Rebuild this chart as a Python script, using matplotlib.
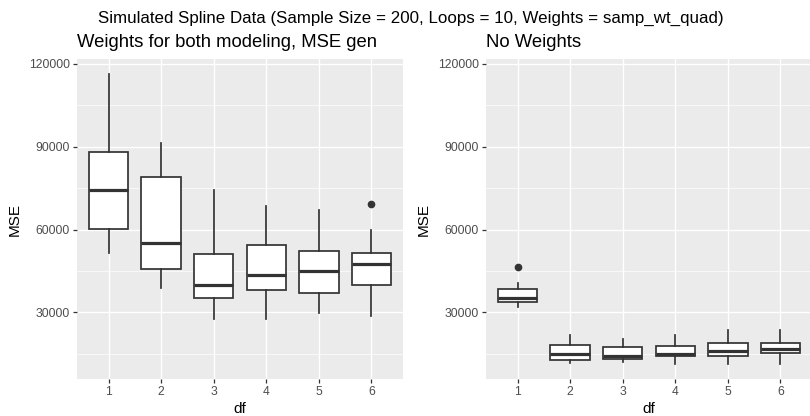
import matplotlib
matplotlib.use("Agg")
import matplotlib.pyplot as plt

plt.rcParams['font.family'] = ['Liberation Sans', 'DejaVu Sans']

df_labels = ["1", "2", "3", "4", "5", "6"]

# Panel 1: Weights for both modeling, MSE gen
w_whislo = [51650, 38800, 27700, 27700, 29900, 28700]
w_q1     = [60100, 45600, 35200, 38100, 37000, 39800]
w_med    = [74400, 55000, 40000, 43500, 45100, 47700]
w_q3     = [87900, 78900, 51000, 54400, 52400, 51400]
w_whishi = [116400, 91200, 74400, 68600, 67200, 59800]
w_fliers = [[], [], [], [], [], [69400]]

# Panel 2: No Weights
n_whislo = [31800, 11900, 12100, 11200, 11200, 11500]
n_q1     = [33900, 12700, 13300, 14400, 14200, 15200]
n_med    = [35400, 14900, 14300, 14900, 16100, 16800]
n_q3     = [38400, 18200, 17600, 18000, 19100, 18800]
n_whishi = [40700, 21800, 20500, 21800, 23800, 23800]
n_fliers = [[46300], [], [], [], [], []]

y_ticks = [30000, 60000, 90000, 120000]
y_minor = [15000, 45000, 75000, 105000]

main_title = "Simulated Spline Data (Sample Size = 200, Loops = 10, Weights = samp_wt_quad)"
titles = ["Weights for both modeling, MSE gen", "No Weights"]

W, H = 810, 416
fig = plt.figure(figsize=(W / 100, H / 100), dpi=100)

panel_bg = "#EBEBEB"
dark = "#333333"

def make_stats(lo, q1, med, q3, hi, fl):
    out = []
    for i in range(len(lo)):
        out.append(dict(whislo=lo[i], q1=q1[i], med=med[i], q3=q3[i],
                        whishi=hi[i], fliers=fl[i], label=df_labels[i]))
    return out

panels = [
    (77, make_stats(w_whislo, w_q1, w_med, w_q3, w_whishi, w_fliers)),
    (486, make_stats(n_whislo, n_q1, n_med, n_q3, n_whishi, n_fliers)),
]

all_lo = min(w_whislo + n_whislo)
all_hi = max(w_whishi + n_whishi + [v for f in w_fliers + n_fliers for v in f])
rng = all_hi - all_lo
ylim = (all_lo - 0.05 * rng, all_hi + 0.05 * rng)

for k, (xpix, stats) in enumerate(panels):
    ax = fig.add_axes([xpix / W, 37 / H, 326 / W, 320 / H])
    ax.set_facecolor(panel_bg)
    for s in ax.spines.values():
        s.set_visible(False)
    positions = list(range(1, len(stats) + 1))
    ax.bxp(stats, positions=positions, widths=0.75, patch_artist=True,
           showfliers=True,
           boxprops=dict(facecolor="white", edgecolor=dark, linewidth=1.25),
           medianprops=dict(color=dark, linewidth=2.3, solid_capstyle='butt'),
           whiskerprops=dict(color=dark, linewidth=1.25),
           capprops=dict(linewidth=0),
           flierprops=dict(marker='o', markerfacecolor=dark, markeredgecolor=dark,
                           markersize=4.5, linestyle='none'),
           zorder=3)
    ax.set_xlim(0.4, len(stats) + 0.6)
    ax.set_ylim(*ylim)
    ax.set_xticks(positions)
    ax.set_xticklabels(df_labels)
    ax.set_yticks(y_ticks)
    ax.set_yticklabels([str(v) for v in y_ticks])
    ax.set_yticks(y_minor, minor=True)
    ax.grid(True, which='major', color='white', linewidth=1.0, zorder=0)
    ax.grid(True, which='minor', axis='y', color='white', linewidth=0.5, zorder=0)
    ax.set_axisbelow(True)
    ax.tick_params(axis='both', which='major', length=3, width=0.9, color=dark,
                   labelcolor="#4D4D4D", labelsize=8.7, pad=2)
    ax.tick_params(axis='both', which='minor', length=0)
    ax.set_xlabel("df", fontsize=11, color="black", labelpad=3)
    ax.set_ylabel("MSE", fontsize=11, color="black", labelpad=5)
    fig.text(xpix / W, 1 - 47 / H, titles[k], fontsize=13.35, color="black",
             ha='left', va='baseline')

fig.text(410.5 / W, 1 - 23 / H, main_title, fontsize=12.2, color="black",
         ha='center', va='baseline')

fig.savefig("out.png", dpi=100)
